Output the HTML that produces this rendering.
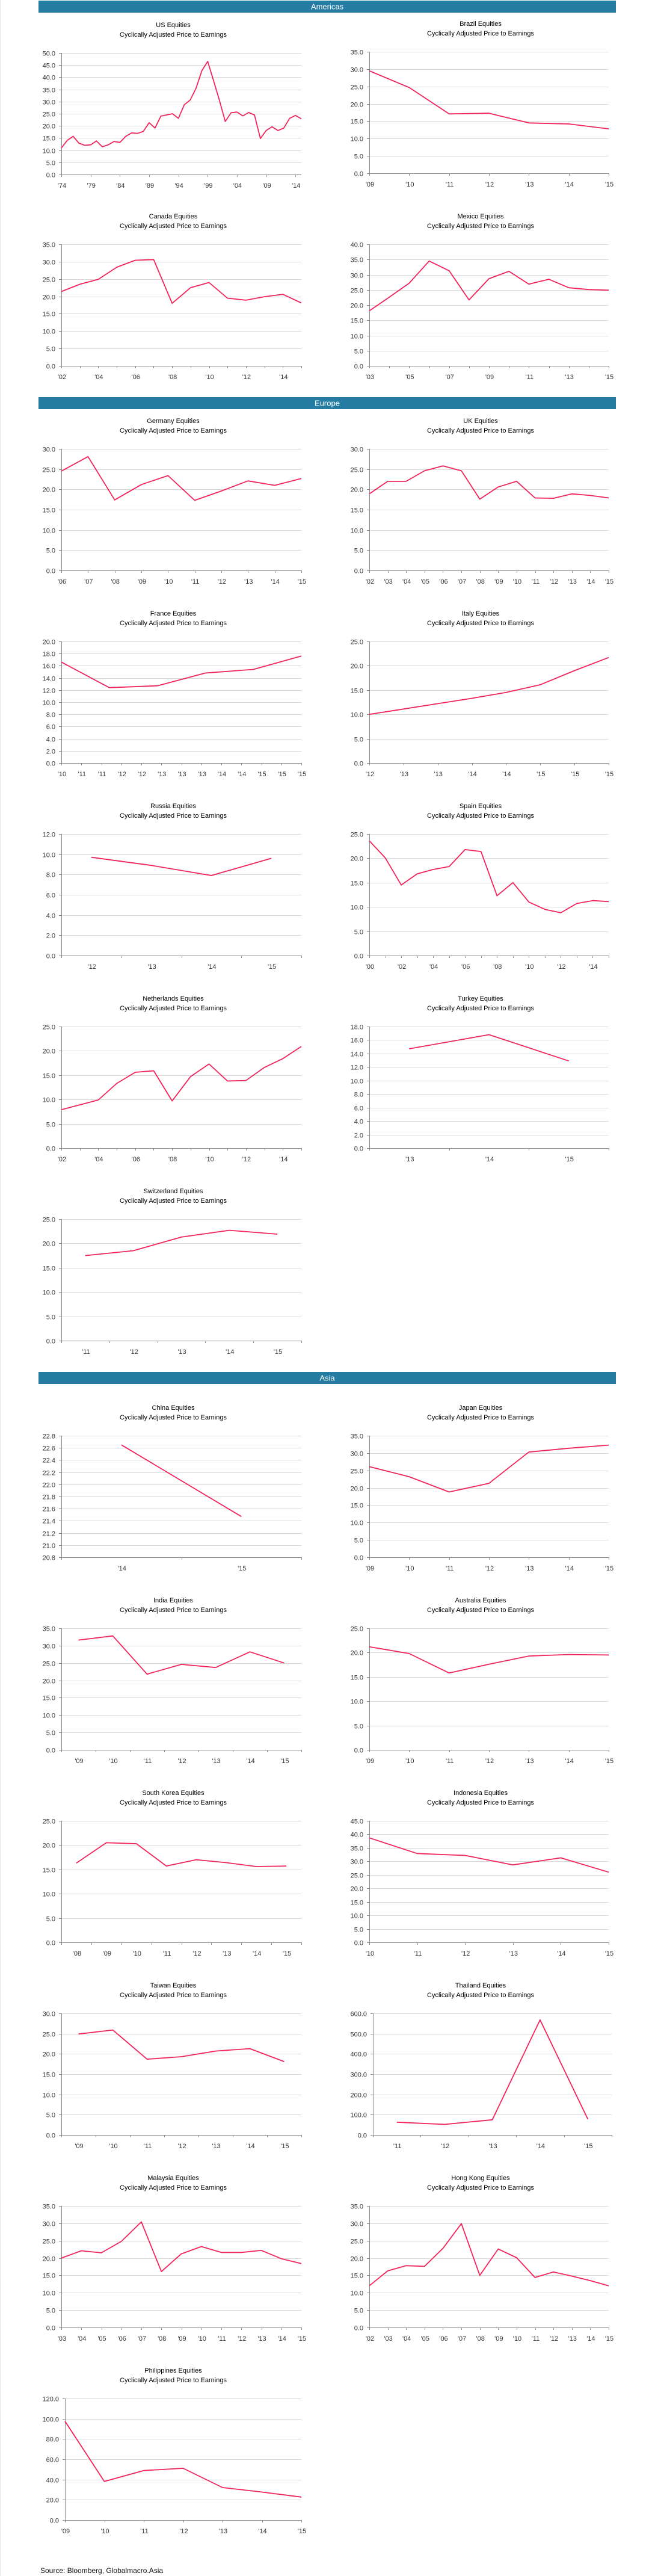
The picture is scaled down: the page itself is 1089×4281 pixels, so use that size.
<!DOCTYPE html>
<html><head><meta charset="utf-8">
<style>
html,body{margin:0;padding:0;background:#fff;}
svg{display:block;font-family:"Liberation Sans",sans-serif;}
</style></head>
<body>
<svg id="page" width="1089" height="4281" viewBox="0 0 1089 4281" xmlns="http://www.w3.org/2000/svg">
  <rect x="0" y="0" width="1089" height="4281" fill="#fff"/>
  <line x1="0.5" y1="0" x2="0.5" y2="4281" stroke="#e6e6e6"/>
  <g>
    <rect x="64" y="1" width="960" height="20" fill="#257ca3"/>
    <text x="544" y="15.5" text-anchor="middle" fill="#fff" font-size="13">Americas</text>
  </g>
  <g>
    <rect x="64" y="660" width="960" height="20" fill="#257ca3"/>
    <text x="544" y="674.5" text-anchor="middle" fill="#fff" font-size="13">Europe</text>
  </g>
  <g>
    <rect x="64" y="2280" width="960" height="20" fill="#257ca3"/>
    <text x="544" y="2294.5" text-anchor="middle" fill="#fff" font-size="13">Asia</text>
  </g>
  <text x="67" y="4276" font-size="12" fill="#111">Source: Bloomberg, Globalmacro.Asia</text>
  <g id="charts"></g>
</svg>
<script>
// ---- data ----
const usValues = [10.9,14.0,15.7,12.9,12.0,12.2,13.8,11.4,12.2,13.6,13.2,15.7,17.1,16.9,17.7,21.3,19.1,24.0,24.5,25.0,23.1,28.7,30.6,35.4,42.7,46.5,38.7,30.5,21.8,25.4,25.7,24.1,25.5,24.5,14.8,18.1,19.6,18.1,19.1,23.1,24.3,22.9];
const usLabels = ["'74","","","","","'79","","","","","'84","","","","","'89","","","","","'94","","","","","'99","","","","","'04","","","","","'09","","","","","'14",""];
const brazilValues = [29.5,24.7,17.1,17.3,14.5,14.2,12.8];
const brazilLabels = ["'09","'10","'11","'12","'13","'14","'15"];
const canadaValues = [21.4,23.5,24.9,28.4,30.4,30.6,18.0,22.5,24.0,19.5,18.9,19.9,20.6,18.1];
const canadaLabels = ["'02","","'04","","'06","","'08","","'10","","'12","","'14",""];
const mexicoValues = [18.1,22.6,27.2,34.5,31.3,21.7,28.7,31.1,26.9,28.5,25.7,25.1,24.9];
const mexicoLabels = ["'03","","'05","","'07","","'09","","'11","","'13","","'15"];
const germanyValues = [24.5,28.1,17.4,21.2,23.4,17.3,19.6,22.1,21.0,22.7];
const germanyLabels = ["'06","'07","'08","'09","'10","'11","'12","'13","'14","'15"];
const ukValues = [18.9,22.0,22.0,24.6,25.8,24.6,17.6,20.6,22.0,17.9,17.8,18.9,18.5,17.9];
const ukLabels = ["'02","'03","'04","'05","'06","'07","'08","'09","'10","'11","'12","'13","'14","'15"];
const franceValues = [16.6,12.4,12.7,14.8,15.4,17.6];
const franceLabels = ["'10","'11","'11","'12","'12","'13","'13","'13","'14","'14","'15","'15","'15"];
const italyValues = [10.0,11.1,12.2,13.3,14.5,16.1,19.0,21.7];
const italyLabels = ["'12","'13","'13","'14","'14","'15","'15","'15"];
const russiaValues = [9.7,8.9,7.9,9.6];
const russiaLabels = ["'12","'13","'14","'15"];
const spainValues = [23.6,20.1,14.5,16.8,17.7,18.3,21.8,21.4,12.3,15.0,11.0,9.5,8.8,10.7,11.3,11.1];
const spainLabels = ["'00","","'02","","'04","","'06","","'08","","'10","","'12","","'14",""];
const netherlandsValues = [7.9,8.9,9.9,13.3,15.6,15.9,9.7,14.7,17.3,13.8,13.9,16.6,18.4,20.9];
const netherlandsLabels = ["'02","","'04","","'06","","'08","","'10","","'12","","'14",""];
const turkeyValues = [14.7,16.8,12.9];
const turkeyLabels = ["'13","'14","'15"];
const switzerlandValues = [17.5,18.5,21.3,22.7,21.9];
const switzerlandLabels = ["'11","'12","'13","'14","'15"];
const chinaValues = [22.65,21.47];
const chinaLabels = ["'14","'15"];
const japanValues = [26.1,23.2,18.8,21.3,30.3,31.4,32.3];
const japanLabels = ["'09","'10","'11","'12","'13","'14","'15"];
const indiaValues = [31.6,32.8,21.8,24.6,23.7,28.2,25.0];
const indiaLabels = ["'09","'10","'11","'12","'13","'14","'15"];
const australiaValues = [21.2,19.8,15.8,17.6,19.3,19.6,19.5];
const australiaLabels = ["'09","'10","'11","'12","'13","'14","'15"];
const koreaValues = [16.3,20.5,20.3,15.7,17.0,16.4,15.6,15.7];
const koreaLabels = ["'08","'09","'10","'11","'12","'13","'14","'15"];
const indonesiaValues = [38.7,32.9,32.2,28.7,31.3,26.0];
const indonesiaLabels = ["'10","'11","'12","'13","'14","'15"];
const taiwanValues = [24.9,25.9,18.7,19.3,20.7,21.3,18.1];
const taiwanLabels = ["'09","'10","'11","'12","'13","'14","'15"];
const thailandValues = [63,52,75,568,78];
const thailandLabels = ["'11","'12","'13","'14","'15"];
const malaysiaValues = [20.0,22.1,21.5,24.8,30.4,16.1,21.2,23.3,21.6,21.6,22.2,19.8,18.4];
const malaysiaLabels = ["'03","'04","'05","'06","'07","'08","'09","'10","'11","'12","'13","'14","'15"];
const hongkongValues = [12.0,16.3,17.8,17.6,22.8,29.9,15.0,22.6,20.1,14.4,16.0,14.8,13.5,12.0];
const hongkongLabels = ["'02","'03","'04","'05","'06","'07","'08","'09","'10","'11","'12","'13","'14","'15"];
const philippinesValues = [97.6,38.1,48.9,51.1,32.1,27.6,22.7];
const philippinesLabels = ["'09","'10","'11","'12","'13","'14","'15"];

// ---- layout ----
const L = {x0:102, x1:501, tx:288}, R = {x0:614, x1:1012, tx:799};
const charts = [
 {id:'us', name:'US Equities', col:L, t:41, v:usValues, lab:usLabels, mode:'edge', min:0, max:50, step:5},
 {id:'brazil', name:'Brazil  Equities', col:R, t:39, v:brazilValues, lab:brazilLabels, mode:'edge', min:0, max:35, step:5},
 {id:'canada', name:'Canada  Equities', col:L, t:359, v:canadaValues, lab:canadaLabels, mode:'edge', min:0, max:35, step:5},
 {id:'mexico', name:'Mexico  Equities', col:R, t:359, v:mexicoValues, lab:mexicoLabels, mode:'edge', min:0, max:40, step:5},
 {id:'germany', name:'Germany Equities', col:L, t:699, v:germanyValues, lab:germanyLabels, mode:'edge', min:0, max:30, step:5},
 {id:'uk', name:'UK Equities', col:R, t:699, v:ukValues, lab:ukLabels, mode:'edge', min:0, max:30, step:5},
 {id:'france', name:'France Equities', col:L, t:1019, v:franceValues, lab:franceLabels, mode:'edge', min:0, max:20, step:2},
 {id:'italy', name:'Italy Equities', col:R, t:1019, v:italyValues, lab:italyLabels, mode:'edge', min:0, max:25, step:5},
 {id:'russia', name:'Russia  Equities', col:L, t:1339, v:russiaValues, lab:russiaLabels, mode:'center', min:0, max:12, step:2},
 {id:'spain', name:'Spain  Equities', col:R, t:1339, v:spainValues, lab:spainLabels, mode:'edge', min:0, max:25, step:5},
 {id:'netherlands', name:'Netherlands Equities', col:L, t:1659, v:netherlandsValues, lab:netherlandsLabels, mode:'edge', min:0, max:25, step:5},
 {id:'turkey', name:'Turkey  Equities', col:R, t:1659, v:turkeyValues, lab:turkeyLabels, mode:'center', min:0, max:18, step:2},
 {id:'switzerland', name:'Switzerland Equities', col:L, t:1979, v:switzerlandValues, lab:switzerlandLabels, mode:'center', min:0, max:25, step:5},
 {id:'china', name:'China Equities', col:L, t:2339, v:chinaValues, lab:chinaLabels, mode:'center', min:20.8, max:22.8, step:0.2},
 {id:'japan', name:'Japan  Equities', col:R, t:2339, v:japanValues, lab:japanLabels, mode:'edge', min:0, max:35, step:5},
 {id:'india', name:'India  Equities', col:L, t:2659, v:indiaValues, lab:indiaLabels, mode:'center', min:0, max:35, step:5},
 {id:'australia', name:'Australia  Equities', col:R, t:2659, v:australiaValues, lab:australiaLabels, mode:'edge', min:0, max:25, step:5},
 {id:'south-korea', name:'South Korea Equities', col:L, t:2979, v:koreaValues, lab:koreaLabels, mode:'center', min:0, max:25, step:5},
 {id:'indonesia', name:'Indonesia  Equities', col:R, t:2979, v:indonesiaValues, lab:indonesiaLabels, mode:'edge', min:0, max:45, step:5},
 {id:'taiwan', name:'Taiwan  Equities', col:L, t:3299, v:taiwanValues, lab:taiwanLabels, mode:'center', min:0, max:30, step:5},
 {id:'thailand', name:'Thailand  Equities', col:{x0:620, x1:1017, tx:799}, t:3299, v:thailandValues, lab:thailandLabels, mode:'center', min:0, max:600, step:100},
 {id:'malaysia', name:'Malaysia  Equities', col:L, t:3619, v:malaysiaValues, lab:malaysiaLabels, mode:'edge', min:0, max:35, step:5},
 {id:'hong-kong', name:'Hong Kong Equities', col:R, t:3619, v:hongkongValues, lab:hongkongLabels, mode:'edge', min:0, max:35, step:5},
 {id:'philippines', name:'Philippines  Equities', col:{x0:108, x1:501, tx:288}, t:3939, v:philippinesValues, lab:philippinesLabels, mode:'edge', min:0, max:120, step:20}
];

const NS = 'http://www.w3.org/2000/svg';
const root = document.getElementById('charts');
function mk(tag, attrs, parent){
  const e = document.createElementNS(NS, tag);
  for (const k in attrs) e.setAttribute(k, attrs[k]);
  parent.appendChild(e);
  return e;
}
charts.forEach(c => {
  const g = mk('g', {}, root);
  
  
  const top = c.t + 47, bot = c.t + 249, x0 = c.col.x0, x1 = c.col.x1;
  const yS = v => bot - (v - c.min) / (c.max - c.min) * (bot - top);
  const n = c.v.length;
  const xP = i => c.mode === 'edge' ? x0 + (n > 1 ? i / (n - 1) : 0.5) * (x1 - x0) : x0 + (i + 0.5) / n * (x1 - x0);
  const m = c.lab.length;
  const xL = j => c.mode === 'edge' ? x0 + (m > 1 ? j / (m - 1) : 0.5) * (x1 - x0) : x0 + (j + 0.5) / m * (x1 - x0);
  // title
  const t1 = mk('text', {x:c.col.tx, y:c.t + 4, 'text-anchor':'middle', 'font-size':'11', fill:'#000'}, g);
  t1.textContent = c.name;
  
  
  const t2 = mk('text', {x:c.col.tx, y:c.t + 20, 'text-anchor':'middle', 'font-size':'11', fill:'#000'}, g);
  t2.textContent = 'Cyclically  Adjusted Price to Earnings';
  
  
  // gridlines and y ticks
  const steps = Math.round((c.max - c.min) / c.step);
  for (let k = 0; k <= steps; k++) {
    const val = c.min + k * c.step;
    const y = Math.round(yS(val)) + 0.5;
    if (k > 0) {
      const gl = mk('line', {x1:x0, x2:x1, y1:y, y2:y, stroke:'#d9d9d9', 'stroke-width':'1'}, g);
      
      
    }
    mk('line', {x1:x0 - 4, x2:x0, y1:y, y2:y, stroke:'#888'}, g);
    const tl = mk('text', {x:x0 - 10, y:y + 4, 'text-anchor':'end', 'font-size':'11', fill:'#333'}, g);
    tl.textContent = val.toFixed(1);
    
    
  }
  // axes
  const ya = mk('line', {x1:x0 + 0.5, x2:x0 + 0.5, y1:top, y2:bot, stroke:'#888'}, g);
  
  
  const xa = mk('line', {x1:x0, x2:x1, y1:bot + 0.5, y2:bot + 0.5, stroke:'#888'}, g);
  
  
  // x ticks
  if (c.mode === 'edge') {
    for (let j = 0; j < m; j++) {
      if (c.id === 'us' && !c.lab[j]) continue;
      const x = Math.round(xL(j)) + 0.5;
      mk('line', {x1:x, x2:x, y1:bot, y2:bot + 4, stroke:'#888'}, g);
    }
  } else {
    for (let j = 0; j <= m; j++) {
      const x = Math.round(x0 + j / m * (x1 - x0)) + 0.5;
      mk('line', {x1:x, x2:x, y1:bot, y2:bot + 4, stroke:'#888'}, g);
    }
  }
  // x labels
  for (let j = 0; j < m; j++) {
    if (!c.lab[j]) continue;
    const xl = mk('text', {x:xL(j) + 1, y:c.t + 271, 'text-anchor':'middle', 'font-size':'11', fill:'#333'}, g);
    xl.textContent = c.lab[j];
    
    
  }
  // series line
  let d = '';
  c.v.forEach((v, i) => { d += (i ? 'L' : 'M') + xP(i).toFixed(1) + ',' + yS(v).toFixed(1); });
  const p = mk('path', {d:d, fill:'none', stroke:'#f0245a', 'stroke-width':'1.8', 'stroke-linejoin':'round'}, g);
  
  
});
</script>
</body></html>
